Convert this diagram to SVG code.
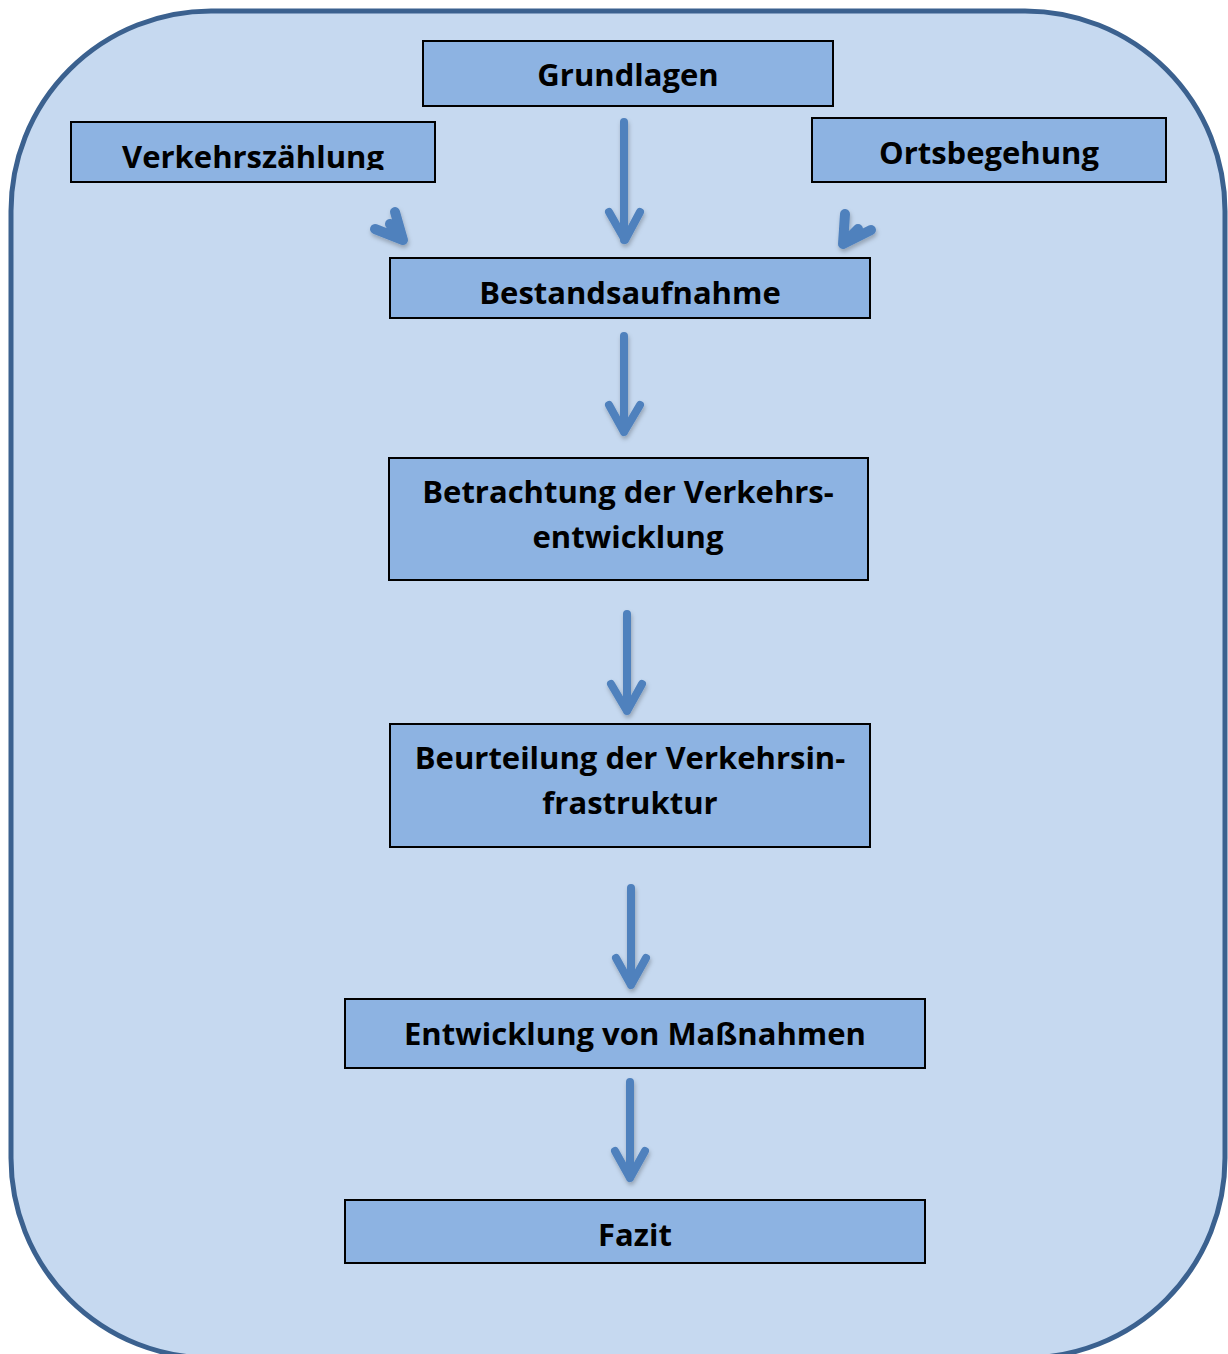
<svg xmlns="http://www.w3.org/2000/svg" width="1228" height="1354" viewBox="0 0 1228 1354">
<style>
.box{fill:#8db3e2;stroke:#000;stroke-width:2}
.lbl{font-family:"Open Sans","DejaVu Sans",sans-serif;font-weight:bold;font-size:31px;fill:#000;text-anchor:middle}
.arr{fill:none;stroke:#4f81bd;stroke-width:8;stroke-linecap:round;stroke-linejoin:round}
.diag{stroke-width:10}
</style>
<defs>
<filter id="sh" x="-50%" y="-50%" width="200%" height="200%">
<feDropShadow dx="1" dy="3" stdDeviation="2" flood-color="#000" flood-opacity="0.25"/>
</filter>
<clipPath id="vzclip"><rect x="71" y="122" width="364" height="48"/></clipPath>
</defs>
<rect x="11" y="11" width="1214" height="1347" rx="200" ry="200" fill="#c6d9f0" stroke="#3b618f" stroke-width="5"/>
<g id="connectors" filter="url(#sh)">
<path class="arr" d="M624 122V240M609 212L625 240L640 212"/>
<path class="arr diag" d="M375 229L403 240L395 212M390 224L403 240"/>
<path class="arr diag" d="M845 214L843 244L871 230M858 229L843 244"/>
<path class="arr" d="M624 336V432M609 405L624 432L640 405"/>
<path class="arr" d="M627 614V711M611 684L627 711L642 684"/>
<path class="arr" d="M631 888V985M616 958L631 985L646 958"/>
<path class="arr" d="M630 1082V1178M615 1151L630 1178L645 1151"/>
</g>
<g id="grundlagen"><rect class="box" x="423" y="41" width="410" height="65"/><text class="lbl" x="628" y="86">Grundlagen</text></g>
<g id="verkehrszaehlung"><rect class="box" x="71" y="122" width="364" height="60"/><text class="lbl" x="253" y="168" clip-path="url(#vzclip)">Verkehrszählung</text></g>
<g id="ortsbegehung"><rect class="box" x="812" y="118" width="354" height="64"/><text class="lbl" x="989" y="164">Ortsbegehung</text></g>
<g id="bestandsaufnahme"><rect class="box" x="390" y="258" width="480" height="60"/><text class="lbl" x="630" y="304">Bestandsaufnahme</text></g>
<g id="betrachtung"><rect class="box" x="389" y="458" width="479" height="122"/><text class="lbl" x="628" y="503">Betrachtung der Verkehrs-</text><text class="lbl" x="628" y="548">entwicklung</text></g>
<g id="beurteilung"><rect class="box" x="390" y="724" width="480" height="123"/><text class="lbl" x="630" y="769">Beurteilung der Verkehrsin-</text><text class="lbl" x="630" y="814">frastruktur</text></g>
<g id="entwicklung"><rect class="box" x="345" y="999" width="580" height="69"/><text class="lbl" x="635" y="1045">Entwicklung von Maßnahmen</text></g>
<g id="fazit"><rect class="box" x="345" y="1200" width="580" height="63"/><text class="lbl" x="635" y="1246">Fazit</text></g>
</svg>
